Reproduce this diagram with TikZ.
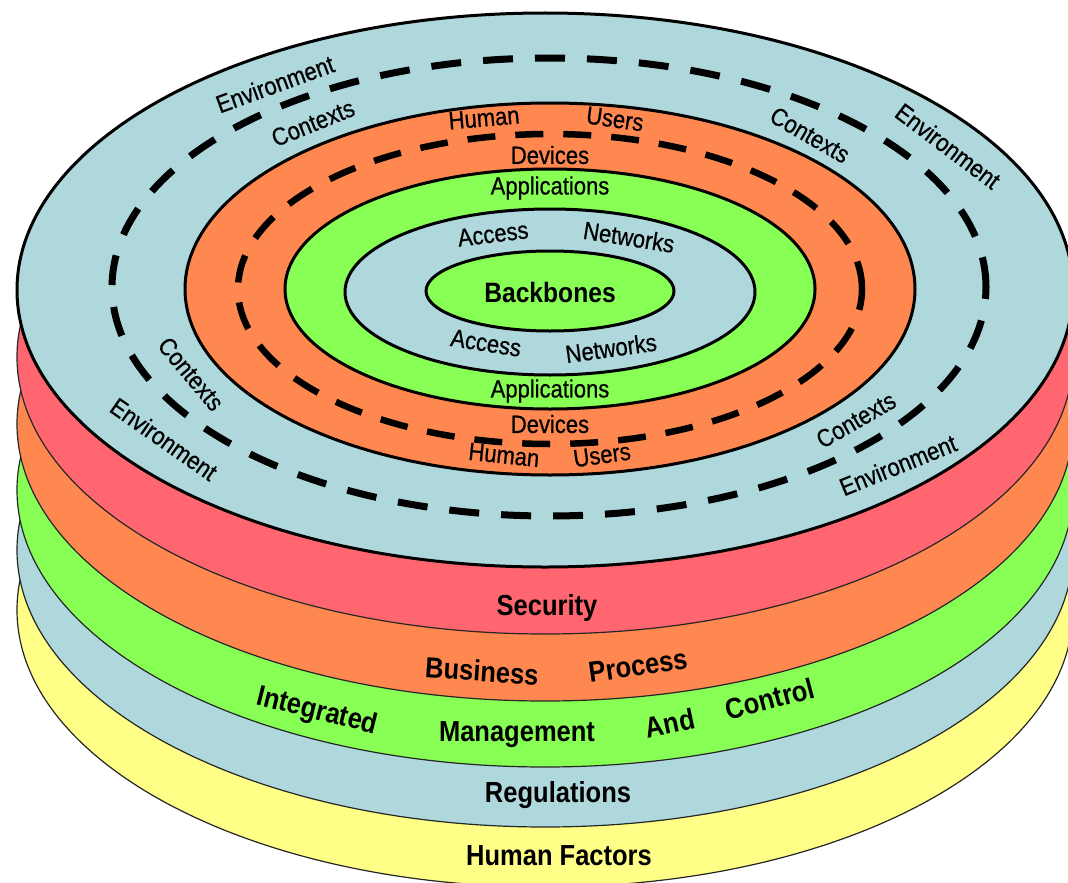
\documentclass[tikz,border=0pt]{standalone}
\usepackage{fontspec}
\setmainfont{Liberation Sans}[FakeStretch=0.88]
\newfontfamily\lblfont{Liberation Sans}[FakeStretch=0.88, FakeBold=0.6]
\definecolor{lblue}{RGB}{174,216,220}
\definecolor{orng}{RGB}{255,136,80}
\definecolor{grn}{RGB}{136,255,85}
\definecolor{redc}{RGB}{255,102,112}
\definecolor{ylw}{RGB}{255,255,136}
\begin{document}
\begin{tikzpicture}[x=1pt,y=-1pt,
  layer/.style={draw=black!85, line width=1.2pt},
  ring/.style={draw=black, line width=3pt},
  dashring/.style={draw=black, line width=7pt, dash pattern=on 30pt off 22pt},
  big/.style={font=\bfseries\fontsize{29}{33}\selectfont, inner sep=0pt},
  bb/.style={font=\bfseries\fontsize{28}{32}\selectfont, inner sep=0pt},
  small/.style={font=\lblfont\fontsize{25}{28}\selectfont, inner sep=0pt}]
\useasboundingbox (0,0) rectangle (1068,883);
% stacked layers (bottom to top)
\path[fill=ylw, layer]   (545,610) ellipse [x radius=528pt, y radius=277pt];
\path[fill=lblue, layer] (545,550) ellipse [x radius=528pt, y radius=277pt];
\path[fill=grn, layer]   (545,490) ellipse [x radius=528pt, y radius=277pt];
\path[fill=orng, layer]  (545,424) ellipse [x radius=528pt, y radius=277pt];
\path[fill=redc, layer]  (545,357) ellipse [x radius=528pt, y radius=277pt];
% top surface
\path[fill=lblue, ring]  (545,290) ellipse [x radius=528pt, y radius=277pt];
\path[dashring] (549,287) ellipse [x radius=437pt, y radius=229pt];
\path[fill=orng, ring] (550,289) ellipse [x radius=365pt, y radius=186pt];
\path[dashring, line width=6.5pt, dash pattern=on 28pt off 20pt] (550,289) ellipse [x radius=312pt, y radius=155pt];
\path[fill=grn, ring] (550,289) ellipse [x radius=265pt, y radius=120pt];
\path[fill=lblue, ring] (550,292) ellipse [x radius=205pt, y radius=83pt];
\path[fill=grn, ring] (550,291) ellipse [x radius=124pt, y radius=40pt];
% labels on top surface
\node[bb] (bb) at (550,292) {Backbones};
\node[small, rotate=7] (acc1) at (493,234) {Access};
\node[small, rotate=-9] (net1) at (629,237) {Networks};
\node[small, rotate=-9] (acc2) at (486,343) {Access};
\node[small, rotate=8] (net2) at (611,348) {Networks};
\node[small] (app1) at (550,188) {Applications};
\node[small] (app2) at (550,391) {Applications};
\node[small] (dev1) at (550,155) {Devices};
\node[small] (dev2) at (550,424) {Devices};
\node[small, rotate=5] (hum1) at (484,118) {Human};
\node[small, rotate=-8] (usr1) at (615,119) {Users};
\node[small, rotate=-6] (hum2) at (504,455) {Human};
\node[small, rotate=8] (usr2) at (602,455) {Users};
\node[small, rotate=20] (env1) at (275,84) {Environment};
\node[small, rotate=22] (ctx1) at (313,123) {Contexts};
\node[small, rotate=-30] (ctx2) at (810,135) {Contexts};
\node[small, rotate=-37] (env2) at (948,146) {Environment};
\node[small, rotate=-50] (ctx3) at (191,374) {Contexts};
\node[small, rotate=-35] (env3) at (164,439) {Environment};
\node[small, rotate=30] (ctx4) at (856,420) {Contexts};
\node[small, rotate=22] (env4) at (898,465) {Environment};
% labels on layers
\node[big] (sec) at (547,608) {Security};
\node[big, rotate=-4] (bus) at (482,671) {Business};
\node[big, rotate=8] (proc) at (638,666) {Process};
\node[big, rotate=-14] (integ) at (317,712) {Integrated};
\node[big] (mgmt) at (517,735) {Management};
\node[big, rotate=12] (and) at (670,723) {And};
\node[big, rotate=15] (ctrl) at (770,699) {Control};
\node[big] (reg) at (558,795) {Regulations};
\node[big] (hf) at (559,856) {Human Factors};
\end{tikzpicture}
\end{document}
